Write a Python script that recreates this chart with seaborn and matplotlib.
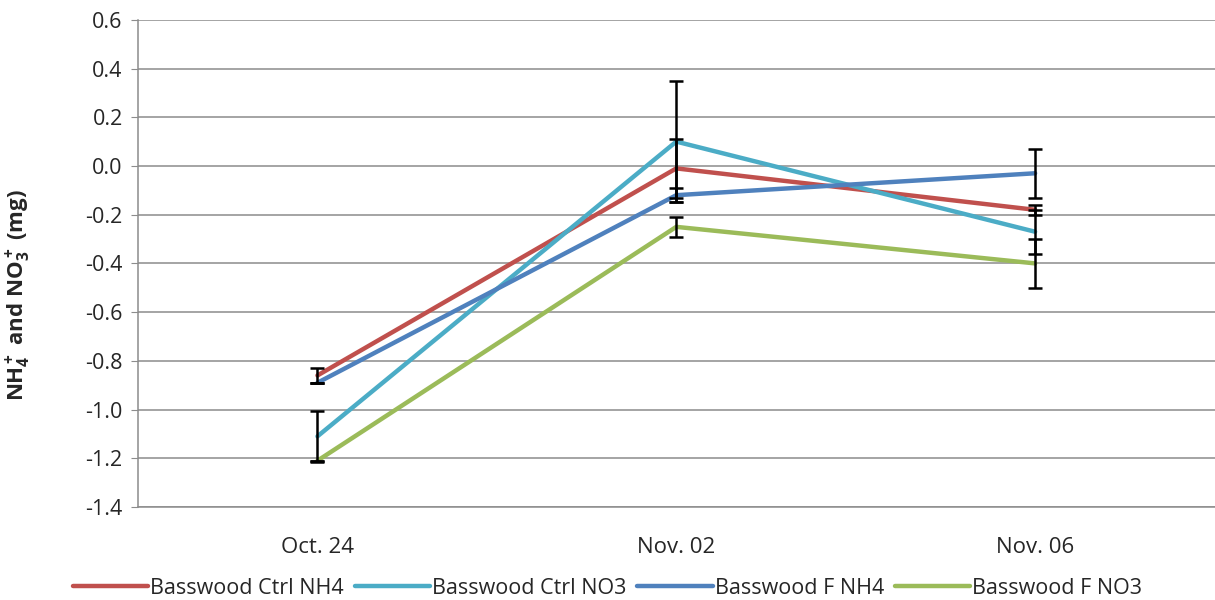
import pandas as pd
import numpy as np
import matplotlib
matplotlib.use('Agg')
import matplotlib.pyplot as plt
import seaborn as sns

# dados
dates = ['Oct. 24', 'Nov. 02', 'Nov. 06']
series = ['Basswood Ctrl NH4', 'Basswood Ctrl NO3', 'Basswood F NH4', 'Basswood F NO3']
ctrl_nh4 = [-0.86, -0.01, -0.18]
ctrl_no3 = [-1.11, 0.10, -0.27]
f_nh4 = [-0.89, -0.12, -0.03]
f_no3 = [-1.21, -0.25, -0.40]
err_ctrl_nh4 = [0.03, 0.12, 0.02]
err_ctrl_no3 = [0.105, 0.25, 0.09]
err_f_nh4 = [0.0, 0.03, 0.10]
err_f_no3 = [0.0, 0.04, 0.10]
yticks = [-1.4, -1.2, -1.0, -0.8, -0.6, -0.4, -0.2, 0.0, 0.2, 0.4, 0.6]
ytick_labels = ['-1.4', '-1.2', '-1.0', '-0.8', '-0.6', '-0.4', '-0.2', '0.0', '0.2', '0.4', '0.6']
cores = ['#C0504D', '#4BACC6', '#4F81BD', '#9BBB59']

vals = [ctrl_nh4, ctrl_no3, f_nh4, f_no3]
errs = [err_ctrl_nh4, err_ctrl_no3, err_f_nh4, err_f_no3]
df = pd.DataFrame({
    'date': dates * 4,
    'serie': np.repeat(series, 3),
    'valor': np.concatenate(vals),
    'erro': np.concatenate(errs),
})

sns.set_style('white')
plt.rcParams.update({'font.family': ['Open Sans', 'DejaVu Sans'], 'font.size': 15,
                     'mathtext.fontset': 'custom', 'mathtext.rm': 'Open Sans:bold',
                     'mathtext.bf': 'Open Sans:bold'})

fig = plt.figure(figsize=(12.15, 6), dpi=100)
ax = fig.add_axes([0.1136, 0.155, 0.886, 0.812])

sns.lineplot(data=df, x='date', y='valor', hue='serie', palette=cores,
             linewidth=3.2, sort=False, ax=ax, legend=False)

pos = {d: i for i, d in enumerate(dates)}
for s in series:
    sub = df[df['serie'] == s]
    ax.errorbar(sub['date'].map(pos), sub['valor'], yerr=sub['erro'], fmt='none',
                ecolor='black', elinewidth=1.8, capsize=5, capthick=1.8, zorder=5)

ax.set_xlim(-0.5, 2.5)
ax.set_ylim(-1.4, 0.6)
ax.set_yticks(yticks)
ax.set_yticklabels(ytick_labels)
ax.yaxis.grid(True, color='#8C8C8C', linewidth=1.1)
ax.set_axisbelow(True)
for side in ['top', 'right']:
    ax.spines[side].set_visible(False)
for side in ['left', 'bottom']:
    ax.spines[side].set_color('#8C8C8C')
    ax.spines[side].set_linewidth(1.1)
ax.tick_params(axis='y', left=True, length=5, color='#8C8C8C', labelsize=15.5, pad=6)
ax.tick_params(axis='x', bottom=False, labelsize=16, pad=18)
ax.set_xlabel('')
ax.set_ylabel(r'NH$_4^+$ and NO$_3^+$ (mg)', fontsize=16, fontweight='bold')
ax.yaxis.set_label_coords(-0.098, 0.435)

handles = [plt.Line2D([], [], color=c, lw=3.2) for c in cores]
fig.legend(handles, series, loc='lower center', bbox_to_anchor=(0.5, -0.03), ncol=4,
           frameon=False, fontsize=15.5, handlelength=3.5, handletextpad=0.1,
           columnspacing=0.5)

plt.savefig('out.png', dpi=100)
